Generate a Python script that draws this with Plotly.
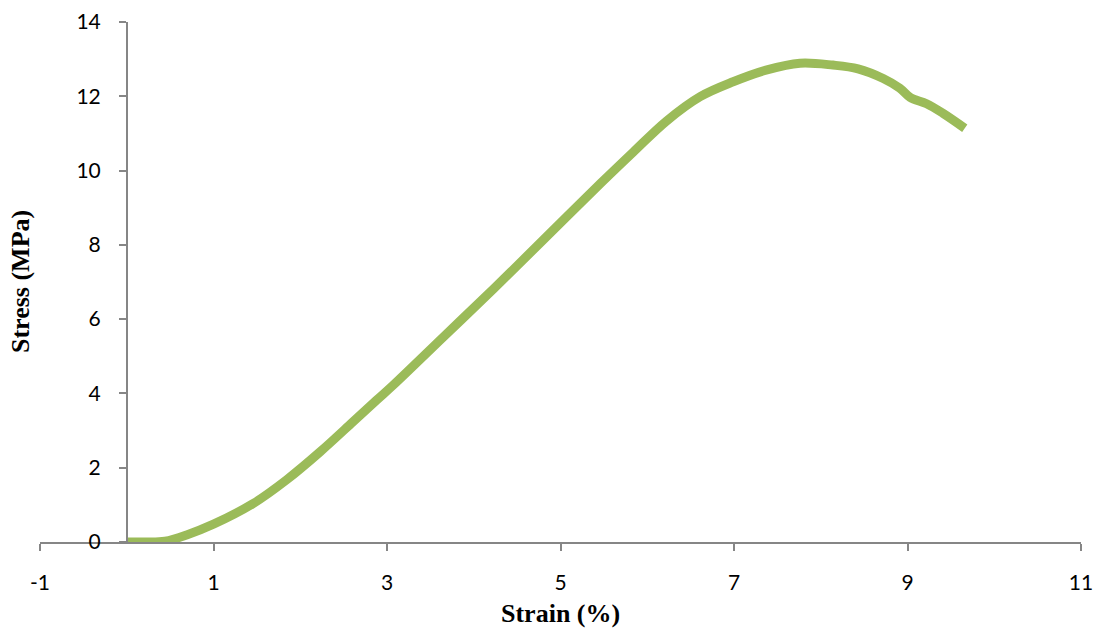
import plotly.graph_objects as go

# Stress-strain curve of the specimen
strain = [0.00, 0.20, 0.44, 0.69, 1.00, 1.46, 1.84, 2.23, 2.61, 2.88, 3.07, 3.65,
          4.23, 4.80, 5.46, 5.84, 6.22, 6.61, 6.99, 7.38, 7.76, 8.14, 8.43, 8.72,
          8.91, 9.03, 9.22, 9.41, 9.66]
stress = [0.00, 0.00, 0.02, 0.19, 0.48, 1.04, 1.67, 2.43, 3.24, 3.82, 4.22, 5.52,
          6.82, 8.13, 9.65, 10.50, 11.33, 11.99, 12.39, 12.71, 12.89, 12.84, 12.74, 12.48,
          12.22, 11.97, 11.80, 11.54, 11.14]

x_ticks = [-1, 1, 3, 5, 7, 9, 11]
y_ticks = [0, 2, 4, 6, 8, 10, 12, 14]

axis_grey = "#868686"
tick_font = dict(family="Lato, Carlito, sans-serif", size=21, color="#000000")
title_font = dict(family="Liberation Serif, Times New Roman, serif", size=26, color="#000000")

fig = go.Figure()
fig.add_trace(go.Scatter(
    x=strain, y=stress, mode="lines",
    line=dict(color="#9BBB59", width=9, shape="spline", smoothing=1.0),
    showlegend=False, hoverinfo="skip",
))

fig.update_layout(
    width=1104, height=635,
    margin=dict(l=40, r=23, t=22, b=93, autoexpand=False),
    paper_bgcolor="white", plot_bgcolor="white",
    xaxis=dict(
        range=[-1, 11], tickvals=x_ticks, ticktext=[str(v) for v in x_ticks],
        showgrid=False, zeroline=False, showline=True, linecolor=axis_grey, linewidth=1.5,
        ticks="outside", ticklen=7, tickwidth=1.5, tickcolor=axis_grey,
        tickfont=tick_font, ticklabelstandoff=14, automargin=False,
    ),
    yaxis=dict(
        range=[0, 14], tickvals=y_ticks, ticktext=[str(v) for v in y_ticks],
        anchor="free", position=1 / 12,
        showgrid=False, zeroline=False, showline=True, linecolor=axis_grey, linewidth=1.5,
        ticks="outside", ticklen=7, tickwidth=1.5, tickcolor=axis_grey,
        tickfont=tick_font, ticklabelstandoff=14, automargin=False,
    ),
    annotations=[
        dict(text="<b>Strain (%)</b>", xref="paper", yref="paper", x=0.5, y=-0.138,
             xanchor="center", yanchor="middle", showarrow=False, font=title_font),
        dict(text="<b>Stress (MPa)</b>", xref="paper", yref="paper", x=-0.0192, y=0.5,
             xanchor="center", yanchor="middle", textangle=-90, showarrow=False, font=title_font),
    ],
)

fig.write_html("out.html")
